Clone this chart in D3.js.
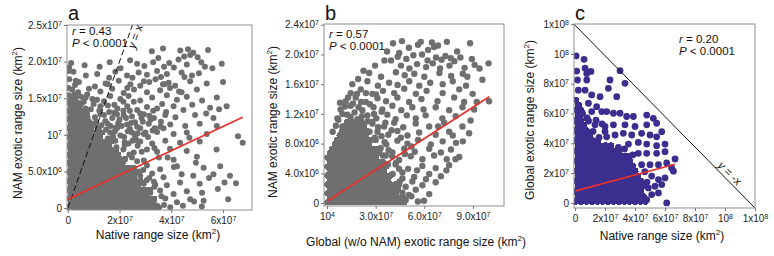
<!DOCTYPE html>
<html>
<head>
<meta charset="utf-8">
<script src="https://cdn.jsdelivr.net/npm/d3@7"></script>
<style>
  body { margin: 0; background: #fff; }
  svg { display: block; font-family: "Liberation Sans", Arial, sans-serif; }
</style>
</head>
<body>
<div id="chart"></div>
<script>
// all values in units of 10^6 km2
// dense cores are rows of [y, [x, x, ...]], the rest are [x, y] pairs

// panel a: native range size (x) vs NAM exotic range size (y)
const aDenseRows = [
  [0.1, [0.2,2,3.7,5.5,7.2,9,10.7,12.5,14.2,16,17.7,19.5,21.2,23,24.7,26.5,28.2,30,31.7,33.5,35.2]],
  [0.7, [1.1,2.9,4.6,6.4,8.1,9.9,11.6,13.4,15.1,16.9,18.6,20.4,22.1,23.9,25.6,27.4,29.1,30.9,32.6]],
  [1.3, [0.2,2,3.7,5.5,7.2,9,10.7,12.5,14.2,16,17.7,19.5,21.2,23,24.7,26.5,28.2,30,31.7,33.5]],
  [1.9, [1.1,2.9,4.6,6.4,8.1,9.9,11.6,13.4,15.1,16.9,18.6,20.4,22.1,23.9,25.6,27.4,29.1,30.9]],
  [2.5, [0.2,2,3.7,5.5,7.2,9,10.7,12.5,14.2,16,17.7,19.5,21.2,23,24.7,26.5,28.2,30,31.7]],
  [3.1, [1.1,2.9,4.6,6.4,8.1,9.9,11.6,13.4,15.1,16.9,18.6,20.4,22.1,23.9,25.6,27.4]],
  [3.7, [0.2,2,3.7,5.5,7.2,9,10.7,12.5,14.2,16,17.7,19.5,21.2,23,24.7,26.5,28.2]],
  [4.3, [1.1,2.9,4.6,6.4,8.1,9.9,11.6,13.4,15.1,16.9,18.6,20.4,22.1,23.9,25.6]],
  [4.9, [0.2,2,3.7,5.5,7.2,9,10.7,12.5,14.2,16,17.7,19.5,21.2,23,24.7,26.5]],
  [5.5, [1.1,2.9,4.6,6.4,8.1,9.9,11.6,13.4,15.1,16.9,18.6,20.4,22.1,23.9]],
  [6.1, [0.2,2,3.7,5.5,7.2,9,10.7,12.5,14.2,16,17.7,19.5,21.2]],
  [6.7, [1.1,2.9,4.6,6.4,8.1,9.9,11.6,13.4,15.1,16.9,18.6,20.4,22.1]],
  [7.3, [0.2,2,3.7,5.5,7.2,9,10.7,12.5,14.2,16,17.7,19.5]],
  [7.9, [1.1,2.9,4.6,6.4,8.1,9.9,11.6,13.4,15.1,16.9,18.6]],
  [8.5, [0.2,2,3.7,5.5,7.2,9,10.7,12.5,14.2,16]],
  [9.1, [1.1,2.9,4.6,6.4,8.1,9.9,11.6,13.4,15.1,16.9]],
  [9.7, [0.2,2,3.7,5.5,7.2,9,10.7,12.5]],
  [10.3, [1.1,2.9,4.6,6.4,8.1,9.9,11.6,13.4]],
  [10.9, [0.2,2,3.7,5.5,7.2,9]],
  [11.5, [1.1,2.9,4.6,6.4,8.1,9.9]],
  [12.1, [0.2,2,3.7,5.5,7.2]],
  [12.7, [1.1,2.9,4.6,6.4]],
  [13.3, [0.2,2,3.7,5.5]],
  [13.9, [1.1,2.9,4.6]],
  [14.5, [0.2,2]],
  [15.1, [1.1,2.9]]
];
const aPoints = [
  [32.5,21.4],[36.8,21.8],[43.5,21.5],[46.5,21.7],[48.5,21.2],[54.2,21.6],[45,20.7],[47.3,20.9],
  [42.8,20.3],[50.2,20.6],[35,20.5],[24.1,20.2],
  [0.5,19.2],[1.3,19.8],[6.5,19.5],[12.3,19.3],[16.2,19.9],[20.4,19.1],[26.8,19.7],[29.6,19.4],
  [33,19.9],[37.2,19.3],[39.2,19.8],[41,19.2],[46,19.6],[51.6,19.9],[53,19.3],[59.5,19.7],[55.9,19.1],
  [0.3,18.7],[2.2,18.6],[7,18.1],[11.4,18.3],[16,17.8],[18.4,18.6],[22.9,18.1],[25,17.8],
  [27.4,18.5],[30.6,18.2],[34.5,18.7],[36,17.9],[38.3,18.3],[44,18.5],[48,18.1],[45.1,17.9],[50.7,18.4],
  [0.6,17.6],[3.1,17.4],[4.3,17.2],[14.6,17],[19.7,17.4],[24.2,16.9],[29.4,17.3],[33.9,17.6],
  [39,17.1],[41.5,16.7],[47.3,17.3],[53.7,17],[60,17.2],[8.2,16.3],[31.5,17.2],[36.8,16.9],
  [10.5,16.6],[15.5,16.9],[23,16.4],[28,16.7],[37.5,16.9],[2.8,16.8],[0.2,16.4],[1.7,16.2],
  [12.6,15.9],[17.2,16.3],[21.6,15.7],[25.6,16.2],[30.6,15.8],[35.7,16.1],[39.5,16.4],[44,15.8],[49.9,16.2],[43,15.9],
  [4,15.8],[0.5,15.4],[2.6,15.5],[5.1,15.2],[7.5,15.5],[9.5,14.9],
  [6.9,15.1],[11.3,14.8],[16.4,15.3],[20.3,14.9],[23.5,15.3],[28,14.7],[32.6,15.1],[38.3,15.4],
  [42.2,14.8],[46,15.2],[51.9,14.7],[57.6,15.1],
  [3.6,14.4],[5.2,14.3],[6.2,14.5],[10,14.2],[14,14.6],[18,14.1],[25.5,14.5],[36.5,14.2],[15.5,14],[21.5,14.5],[48.1,14.1],
  [6.8,13.6],[8.9,13.5],[12.6,13.9],[19.2,13.6],[23,13.9],[26.8,13.4],[30.6,13.8],[34.5,13.6],[40.9,13.9],
  [44.7,13.4],[55,13.7],[61.4,13.9],[58.5,13.5],[53.5,12.9],
  [7.4,12.9],[12.2,13.3],[16,13.1],[21.5,13.3],[24,13.3],[28,12.9],[33,13.3],[38,13.1],
  [7.6,12.4],[12.6,12.8],[17.2,12.3],[21.6,12.7],[24.8,12.5],[29.4,12.8],[33.3,12.3],[37.7,12.7],[19,12.8],
  [41.6,12.4],[49.2,12.7],[56.3,12.3],[10.5,12.4],[14,12.7],[18,13],[28.5,12.3],[22.5,12.3],[31.5,12.6],
  [8.3,11.8],[14.5,11.9],[20,12.1],[26,11.7],[32,12.1],[36,11.8],[11,11.8],[13,11.3],[19.5,11.6],
  [10.9,11.2],[15.4,11.5],[18.5,11],[22.9,11.4],[26.8,11.1],[31.3,11.5],[35.8,11.1],[39.6,11.4],
  [45.4,11.2],[51,11.5],[57.6,11.2],[16.5,11.2],[20.8,11.2],[24.5,11.6],[29,11.8],[33.6,10.9],
  [14.8,10.7],[19,10.9],[23.2,10.5],[28,10.9],[32.8,10.6],[37,10.9],[12,10.8],
  [16.4,10.3],[20.3,9.9],[24.8,10.3],[29.4,10.1],[34.5,10.4],[40.9,10.1],[46,10.3],[53.7,10.1],
  [65.8,9.8],[67.6,8.9],[17.5,9.8],[22,9],[24,10.8],[26,9.8],[30,10.3],[27,10.2],[18.2,10.5],
  [15.5,9.5],[21.8,9.7],[26.5,9.3],[31,9.7],[25,9.2],[47,9.6],
  [18.4,9.2],[23.5,8.8],[28,9.1],[32.6,8.8],[37.7,9.2],[43.4,8.9],[51,9.1],
  [18.8,8.3],[27,8.5],[33.5,8.2],[22,8.6],
  [21.5,8],[25.5,7.6],[30.6,8],[34.5,7.7],[39.5,8.1],[46,7.8],[57.5,8],[28.6,7.7],
  [24.8,6.9],[29.4,6.5],[35.2,6.9],[40.9,6.6],[49.9,7],[23.8,7.3],[26.8,6.4],[38.6,6.9],
  [25.6,5.5],[30.6,5.8],[35.7,5.3],[42.2,5.7],[52.5,5.5],[58.9,5.7],[27.5,5],[29.2,5.2],[41,5.6],[49.5,6.2],
  [28,4.4],[32.6,4.7],[37,4.2],[44,4.6],[48.5,4.4],[56.3,4.6],[62.7,4.4],[30.5,3.8],[31.5,4.1],[54.6,4.1],
  [29.4,3.3],[33.3,3.6],[38.3,3.1],[43.4,3.5],[51,3.3],[60.6,3.5],[65,3.4],[33.8,3.2],[58,2.6],
  [31.9,2.1],[35.7,2.4],[40.9,1.9],[46,2.3],[51.9,2.1],[33.5,2.9],[36.2,1.6],
  [33.3,1],[37.7,1.3],[42.2,0.8],[47.3,1.2],[52.5,1],[62,1.2],[48.8,0.9],
  [34.5,0.3],[39.6,0.1],[51.8,0.2],[37.2,0.4],[44.5,0.3]
];
const aFit = [[0, 1.2], [67.6, 12.4]];
const aRefLine = [[0, 0], [25, 25]];
const aXTicks = [0, 20, 40, 60];
const aXLabels = ["0", "2x10^7", "4x10^7", "6x10^7"];
const aYTicks = [0, 5, 10, 15, 20, 25];
const aYLabels = ["0", "5.0x10^6", "10^7", "1.5x10^7", "2.0x10^7", "2.5x10^7"];

// panel b: global (w/o NAM) exotic range size (x) vs NAM exotic range size (y)
const bDenseRows = [
  [0.1, [0.3,3.3,6.3,9.3,12.3,15.3,18.3,21.3,24.3,27.3,30.3,33.3,36.3,39.3,42.3,45.3,47.5]],
  [0.7, [1.8,4.8,7.8,10.8,13.8,16.8,19.8,22.8,25.8,28.8,31.8,34.8,37.8,40.8,43.8,46.8]],
  [1.3, [0.3,3.3,6.3,9.3,12.3,15.3,18.3,21.3,24.3,27.3,30.3,33.3,36.3,39.3,42.3]],
  [1.9, [1.8,4.8,7.8,10.8,13.8,16.8,19.8,22.8,25.8,28.8,31.8,34.8,37.8,40.8,43.8]],
  [2.5, [0.3,3.3,6.3,9.3,12.3,15.3,18.3,21.3,24.3,27.3,30.3,33.3,36.3,39.3,42.3]],
  [3.1, [1.8,4.8,7.8,10.8,13.8,16.8,19.8,22.8,25.8,28.8,31.8,34.8,37.8]],
  [3.7, [0.3,3.3,6.3,9.3,12.3,15.3,18.3,21.3,24.3,27.3,30.3,33.3,36.3,39.3]],
  [4.3, [1.8,4.8,7.8,10.8,13.8,16.8,19.8,22.8,25.8,28.8,31.8,34.8]],
  [4.9, [0.3,3.3,6.3,9.3,12.3,15.3,18.3,21.3,24.3,27.3,30.3,33.3,36.3]],
  [5.5, [1.8,4.8,7.8,10.8,13.8,16.8,19.8,22.8,25.8,28.8,31.8,34.8]],
  [6.1, [0.3,3.3,6.3,9.3,12.3,15.3,18.3,21.3,24.3,27.3,30.3]],
  [6.7, [1.8,4.8,7.8,10.8,13.8,16.8,19.8,22.8,25.8,28.8,31.8]],
  [7.3, [3.3,6.3,9.3,12.3,15.3,18.3,21.3,24.3,27.3,30.3]],
  [7.9, [4.8,7.8,10.8,13.8,16.8,19.8,22.8,25.8]],
  [8.5, [6.3,9.3,12.3,15.3,18.3,21.3,24.3,27.3]],
  [9.1, [7.8,10.8,13.8,16.8,19.8,22.8]],
  [9.7, [9.3,12.3,15.3,18.3,21.3,24.3]],
  [10.3, [10.8,13.8,16.8,19.8,22.8]],
  [10.9, [12.3,15.3,18.3,21.3]]
];
const bPoints = [
  [40.7,21.5],[46.2,21.8],[56.1,21.3],[57.8,21.7],[64.7,21.6],[68.4,21.2],[73.9,21.7],[88.2,21.5],
  [37,20.4],[58.6,20],[62.3,20.6],[44.5,20.2],[50.5,20.9],[66,21],[80.2,20.4],
  [39.5,19.2],[43.6,19.7],[48.9,19.4],[53.2,19.9],[62,19.2],[67.2,19.6],[70.6,19.3],[73,19.8],
  [76.3,19.5],[78.5,19.1],[82.2,19.6],[89.3,19.4],[99.6,18.8],[35.4,19.2],
  [45.6,18.5],[50.8,18.1],[55.5,18.7],[61.1,18.3],[65.2,18.8],[69.7,18.1],[75.5,18.5],[84.8,18.2],[91,18.6],[94,18.1],
  [29.6,18.5],[22.5,17.8],
  [26,17.5],[33.3,17],[42.5,17.6],[47.9,17.2],[53.8,17.4],[60,17],[69.3,17.5],[76.5,17.1],[83.7,17.4],[86.5,17],
  [19.2,16.7],[95.8,16.6],
  [15.6,16],[24.9,16.4],[31.4,15.8],[38.3,16.2],[43.5,15.9],[50.7,16.4],[56.9,15.8],[63.6,16.2],[71.3,16],[77.5,16.4],[85.7,15.8],
  [14.6,14.8],[20.8,15.3],[28,14.7],[34.5,15.1],[41.4,14.8],[47.6,15.4],[54.8,14.7],[61.4,15.1],[71.3,14.8],[81.5,15.3],[89.8,14.7],
  [18.5,14.7],[24,14.8],[30.3,14.6],[13,14.2],[16,13.4],[21,13.6],[26.5,13.3],[11,13],[8,13.5],
  [11.5,13.7],[17.7,14.2],[23.9,13.6],[31.1,14.1],[36.4,13.7],[43.4,14.2],[50.6,13.6],[58.2,14],[68.1,13.7],[78.4,14.2],[84.5,13.6],[99.9,13.7],
  [92.3,13.6],[19.5,12.9],[17,12.2],
  [8.4,12.6],[14.6,13.1],[21.8,12.5],[28.7,12.9],[34.1,12.6],[40.3,13.1],[45.8,12.5],[52.6,12.9],[59.5,12.6],[67,12.9],[75.3,12.5],[83.5,12.9],[90.7,12.6],
  [9.5,12],[29,12],[33.7,12.3],[7,11.2],[27.8,10.9],[36,10.8],[5.5,10.4],[88.5,11.1],[14.5,11.6],[21.5,11.7],[25,11],
  [6.4,11.4],[12.5,11.9],[18.7,11.3],[24.9,11.8],[30.4,11.4],[37.2,11.9],[42.3,11.3],[49.2,11.8],[54.7,11.4],[60.8,11.8],[71.1,11.4],[79.3,11.7],
  [9.5,10.3],[15.6,10.8],[21.8,10.2],[28,10.7],[35.2,10.3],[41.4,10.8],[47,10.2],[54.7,10.7],[63,10.3],[72.2,10.8],[83.5,10.3],
  [31.5,10.2],[39.8,9.8],[68.5,10.3],[26.2,9.6],[29.5,8.8],[32.5,7.2],
  [3.5,9.6],[10.5,9.3],[17.7,9.5],[23.9,9.1],[31.1,9.6],[37.8,9.2],[43.4,9.7],[49.6,9.1],[56.8,9.5],[67,9.2],[75.3,9.6],[87.6,9.4],
  [33.6,9],[45.5,8.8],[77.5,9.1],[83.7,8.3],[35.5,8.2],
  [23.9,8.1],[30,8.5],[36.6,7.9],[43.4,8.4],[49.6,8],[56.1,8.5],[64,7.9],[71.3,8.3],[79.5,8.1],
  [38,7.1],[52,7.6],[48,6.6],[40.2,6.3],[34.5,6.4],[37.5,5.2],[40.5,3.9],[44.8,2.9],[46.5,0.9],
  [26,6.9],[33.1,7.4],[40.3,6.8],[47.6,7.3],[54.1,6.9],[63,7.3],[70.2,6.8],[76.4,7.2],
  [28,6],[36.2,6.4],[44.4,5.8],[51.6,6.3],[58.8,5.9],[66,6.4],[73.8,5.9],[81.5,6.2],[79.2,5.9],
  [42.5,5.4],[44.4,4.6],[55.5,4.4],[73.6,4.4],
  [34.1,4.7],[42.3,5.2],[50,4.6],[58.8,5],[67,4.7],[75.3,5.1],
  [38.3,3.6],[46.5,4.1],[53.7,3.5],[63,3.9],[70.2,3.6],[46.5,3.3],[61,3.2],
  [44.4,2.5],[52.6,2.9],[58.8,2.4],[67,2.8],[48.5,2.2],
  [46.5,1.4],[54.7,1.8],[63,1.2],[50.5,1.1],[52,0.9],
  [48.5,0.4],[59.8,0.3],[56,0.2]
];
const bFit = [[0, 0.23], [100, 14.3]];
const bXTicks = [0, 30, 60, 90];
const bXLabels = ["10^4", "3.0x10^7", "6.0x10^7", "9.0x10^7"];
const bYTicks = [0, 4, 8, 12, 16, 20, 24];
const bYLabels = ["0", "4.0x10^6", "8.0x10^6", "1.2x10^7", "1.6x10^7", "2.0x10^7", "2.4x10^7"];

// panel c: native range size (x) vs global exotic range size (y)
const cDenseRows = [
  [1, [0.5,4.1,7.7,11.3,14.9,18.5,22.1,25.7,29.3,32.9,36.5,40.1,43.7,46.8]],
  [4.4, [2.3,5.9,9.5,13.1,16.7,20.3,23.9,27.5,31.1,34.7,38.3,41.9,45.5]],
  [7.8, [0.5,4.1,7.7,11.3,14.9,18.5,22.1,25.7,29.3,32.9,36.5,40.1,43.7]],
  [11.2, [2.3,5.9,9.5,13.1,16.7,20.3,23.9,27.5,31.1,34.7,38.3,41.9,45.5]],
  [14.6, [0.5,4.1,7.7,11.3,14.9,18.5,22.1,25.7,29.3,32.9,36.5,40.1,43.7]],
  [18, [2.3,5.9,9.5,13.1,16.7,20.3,23.9,27.5,31.1,34.7,38.3,41.9]],
  [21.4, [0.5,4.1,7.7,11.3,14.9,18.5,22.1,25.7,29.3,32.9,36.5,40.1]],
  [24.8, [2.3,5.9,9.5,13.1,16.7,20.3,23.9,27.5,31.1,34.7,38.3]],
  [28.2, [0.5,4.1,7.7,11.3,14.9,18.5,22.1,25.7,29.3,32.9,36.5]],
  [31.6, [2.3,5.9,9.5,13.1,16.7,20.3,23.9,27.5,31.1,34.7]],
  [35, [0.5,4.1,7.7,11.3,14.9,18.5,22.1,25.7,29.3]],
  [38.4, [2.3,5.9,9.5,13.1,16.7,20.3,23.9]],
  [41.8, [0.5,4.1,7.7,11.3,14.9]],
  [45.2, [2.3,5.9,9.5]],
  [48.6, [0.5,4.1,7.7]],
  [52, [2.3,5.9]],
  [55.4, [0.5,4.1]],
  [58.8, [2.3]],
  [62.2, [0.5,4.1]],
  [65.6, [2.3]],
  [69, [0.5]]
];
const cPoints = [
  [0.7,98.7],[6,96.4],[6.7,90.4],[1.1,88.5],[10.6,88.3],[30,88.8],[7.8,86.8],
  [1.6,82.5],[7.8,82.5],[23.3,82.5],[33.3,80.3],[22.2,76.9],[2.2,75.7],[6.7,75.7],
  [11.1,72.5],[16.7,71.3],[27.8,71.3],[8.9,66.9],[14.4,64.6],
  [11.1,61.3],[17.8,61.3],[21.1,61.3],[25.6,60.2],[30,60.2],[47.8,59],[34.4,58],[38.9,58],
  [52.2,56.8],[9,55],[14,55.5],[8,57],[5,60],[54.4,53.5],[18,53],
  [13.3,52.4],[25.6,52.4],[33.3,52.4],[47.8,52.4],[20,51.3],[40,51.3],
  [12,48],[20,48],[57.8,47.8],[32.2,46.7],[44.4,46.7],[26.7,45.6],[37.8,45.6],[50,45.6],
  [16,44],[21.1,44.4],[54.4,44.4],[42.2,40.6],[35.6,39.5],[47.8,39.5],[60,39.5],[54.4,38.4],
  [28.9,37.3],[33,36.2],[60,34.4],[42.2,33.3],[47.8,33.3],[54.4,33.3],[38.5,32.2],[35.6,30],
  [66.7,29.5],[61.1,26.8],[44.4,25.7],[50,25.7],[55.6,25.7],[64.4,23.5],[65.6,21.3],
  [46.5,21],[51.1,18],[60,16.8],[55.6,15.7],[48,14],[57.8,12.3],[53.3,11.2],[48.9,10.1],
  [55.6,6.7],[51.1,5.6],[47.8,2.2],[61.1,0]
];
const cFit = [[0.4, 8.1], [66.7, 26]];
const cRefLine = [[-0.7, 120], [120, -3.4]];
const cTicks = [0, 20, 40, 60, 80, 100, 120];
const cLabels = ["0", "2x10^7", "4x10^7", "6x10^7", "8x10^7", "10^8", "1x10^8"];

const W = 774, H = 256;
const svg = d3.select("#chart").append("svg")
  .attr("width", W)
  .attr("height", H);

const panels = [
  {
    letter: "a", rows: aDenseRows, points: aPoints, fit: aFit, ref: aRefLine, refDash: "6,3",
    left: 67, right: 252, top: 25, bottom: 210,
    xDomain: [-0.3, 71.2], yDomain: [-0.27, 25],
    xTicks: aXTicks, xLabels: aXLabels, yTicks: aYTicks, yLabels: aYLabels,
    color: "#6f6f6f", r: 3.0,
    stat: "0.43", statX: 72, statY: 35,
    xTitle: "Native range size (km", xTitleX: 158, xTitleY: 239,
    yTitle: "NAM exotic range size (km", yTitleX: 22, yTitleY: 123,
    refLabel: "x", refLabelX: 139, refLabelY: 38, refAngle: -70
  },
  {
    letter: "b", rows: bDenseRows, points: bPoints, fit: bFit,
    left: 324, right: 504, top: 24, bottom: 206,
    xDomain: [-1.85, 109.1], yDomain: [-0.4, 24.1],
    xTicks: bXTicks, xLabels: bXLabels, yTicks: bYTicks, yLabels: bYLabels,
    color: "#6f6f6f", r: 3.2,
    stat: "0.57", statX: 329, statY: 38,
    xTitle: "Global (w/o NAM) exotic range size (km", xTitleX: 416, xTitleY: 246,
    yTitle: "NAM exotic range size (km", yTitleX: 277, yTitleY: 122
  },
  {
    letter: "c", rows: cDenseRows, points: cPoints, fit: cFit, ref: cRefLine, refDash: null,
    left: 574, right: 755, top: 24, bottom: 208,
    xDomain: [-0.7, 120], yDomain: [-3.4, 120.1],
    xTicks: cTicks, xLabels: cLabels, yTicks: cTicks, yLabels: cLabels,
    color: "#3a2e8e", r: 3.4,
    stat: "0.20", statX: 679, statY: 43,
    xTitle: "Native range size (km", xTitleX: 662, xTitleY: 240,
    yTitle: "Global exotic range size (km", yTitleX: 534, yTitleY: 120,
    refLabel: "-x", refLabelX: 727, refLabelY: 176, refAngle: 45
  }
];

// turn "2x10^7" into base text + raised exponent
function supify(sel) {
  sel.each(function () {
    const t = d3.select(this);
    const s = t.text();
    if (s.indexOf("^") < 0) return;
    const parts = s.split("^");
    t.text(parts[0]);
    t.append("tspan").attr("dy", "-0.45em").attr("font-size", "7px").text(parts[1]);
  });
}

function titleText(sel, label) {
  sel.text(label);
  sel.append("tspan").attr("dy", -5).attr("font-size", "8px").text("2");
  sel.append("tspan").attr("dy", 5).text(")");
}

function drawPanel(p) {
  const x = d3.scaleLinear().domain(p.xDomain).range([p.left, p.right]);
  const y = d3.scaleLinear().domain(p.yDomain).range([p.bottom, p.top]);
  const g = svg.append("g");
  const clipId = "clip-" + p.letter;

  svg.append("clipPath").attr("id", clipId)
    .append("rect")
    .attr("x", p.left).attr("y", p.top)
    .attr("width", p.right - p.left).attr("height", p.bottom - p.top);

  const dense = p.rows.flatMap(([yv, xs]) => xs.map(xv => [xv, yv]));

  const plot = g.append("g").attr("clip-path", `url(#${clipId})`);

  // dense core: no anti-aliasing so the overlap reads as a solid mass
  plot.append("g")
    .attr("shape-rendering", "crispEdges")
    .selectAll("circle")
    .data(dense)
    .enter()
    .append("circle")
    .attr("cx", d => x(d[0]))
    .attr("cy", d => y(d[1]))
    .attr("r", p.r)
    .attr("fill", p.color);

  plot.append("g")
    .selectAll("circle")
    .data(p.points)
    .enter()
    .append("circle")
    .attr("cx", d => x(d[0]))
    .attr("cy", d => y(d[1]))
    .attr("r", p.r)
    .attr("fill", p.color);

  const line = d3.line().x(d => x(d[0])).y(d => y(d[1]));

  if (p.ref) {
    plot.append("path")
      .datum(p.ref)
      .attr("d", line)
      .attr("fill", "none")
      .attr("stroke", "#111")
      .attr("stroke-width", 1)
      .attr("stroke-dasharray", p.refDash);
  }

  plot.append("path")
    .datum(p.fit)
    .attr("d", line)
    .attr("fill", "none")
    .attr("stroke", "#e8312b")
    .attr("stroke-width", 1.7);

  // frame
  g.append("rect")
    .attr("x", p.left).attr("y", p.top)
    .attr("width", p.right - p.left).attr("height", p.bottom - p.top)
    .attr("fill", "none")
    .attr("stroke", "#8f8f8f")
    .attr("stroke-width", 1);

  const yAxis = g.append("g")
    .attr("transform", `translate(${p.left},0)`)
    .call(d3.axisLeft(y)
      .tickValues(p.yTicks)
      .tickFormat((d, i) => p.yLabels[i])
      .tickSize(3)
      .tickSizeOuter(0)
      .tickPadding(2));
  yAxis.select(".domain").remove();

  const xAxis = g.append("g")
    .attr("transform", `translate(0,${p.bottom})`)
    .call(d3.axisBottom(x)
      .tickValues(p.xTicks)
      .tickFormat((d, i) => p.xLabels[i])
      .tickSize(3)
      .tickSizeOuter(0)
      .tickPadding(4));
  xAxis.select(".domain").remove();

  g.selectAll(".tick line").attr("stroke", "#777");
  g.selectAll(".tick text")
    .attr("fill", "#222")
    .style("font-size", "10px")
    .style("font-family", "'Liberation Sans', Arial, sans-serif");
  supify(yAxis.selectAll(".tick text"));
  supify(xAxis.selectAll(".tick text"));

  // panel letter
  g.append("text")
    .attr("x", p.left + 1)
    .attr("y", 20)
    .attr("font-size", "20px")
    .attr("fill", "#111")
    .text(p.letter);

  // r and P annotation
  const st = g.append("text")
    .attr("x", p.statX)
    .attr("y", p.statY)
    .attr("font-size", "11.5px")
    .attr("fill", "#111");
  st.append("tspan").attr("font-style", "italic").text("r");
  st.append("tspan").text(" = " + p.stat);
  const pt = g.append("text")
    .attr("x", p.statX)
    .attr("y", p.statY + 12)
    .attr("font-size", "11.5px")
    .attr("fill", "#111");
  pt.append("tspan").attr("font-style", "italic").text("P");
  pt.append("tspan").text(" < 0.0001");

  // reference line label
  if (p.refLabel) {
    const rl = g.append("text")
      .attr("transform", `translate(${p.refLabelX},${p.refLabelY}) rotate(${p.refAngle})`)
      .attr("text-anchor", "middle")
      .attr("font-size", "11.5px")
      .attr("fill", "#111");
    rl.append("tspan").attr("font-style", "italic").text("y");
    rl.append("tspan").text(" = " + p.refLabel);
  }

  // axis titles
  g.append("text")
    .attr("x", p.xTitleX)
    .attr("y", p.xTitleY)
    .attr("text-anchor", "middle")
    .attr("font-size", "12px")
    .attr("fill", "#111")
    .call(titleText, p.xTitle);

  g.append("text")
    .attr("transform", `translate(${p.yTitleX},${p.yTitleY}) rotate(-90)`)
    .attr("text-anchor", "middle")
    .attr("font-size", "12px")
    .attr("fill", "#111")
    .call(titleText, p.yTitle);
}

panels.forEach(drawPanel);
</script>
</body>
</html>
